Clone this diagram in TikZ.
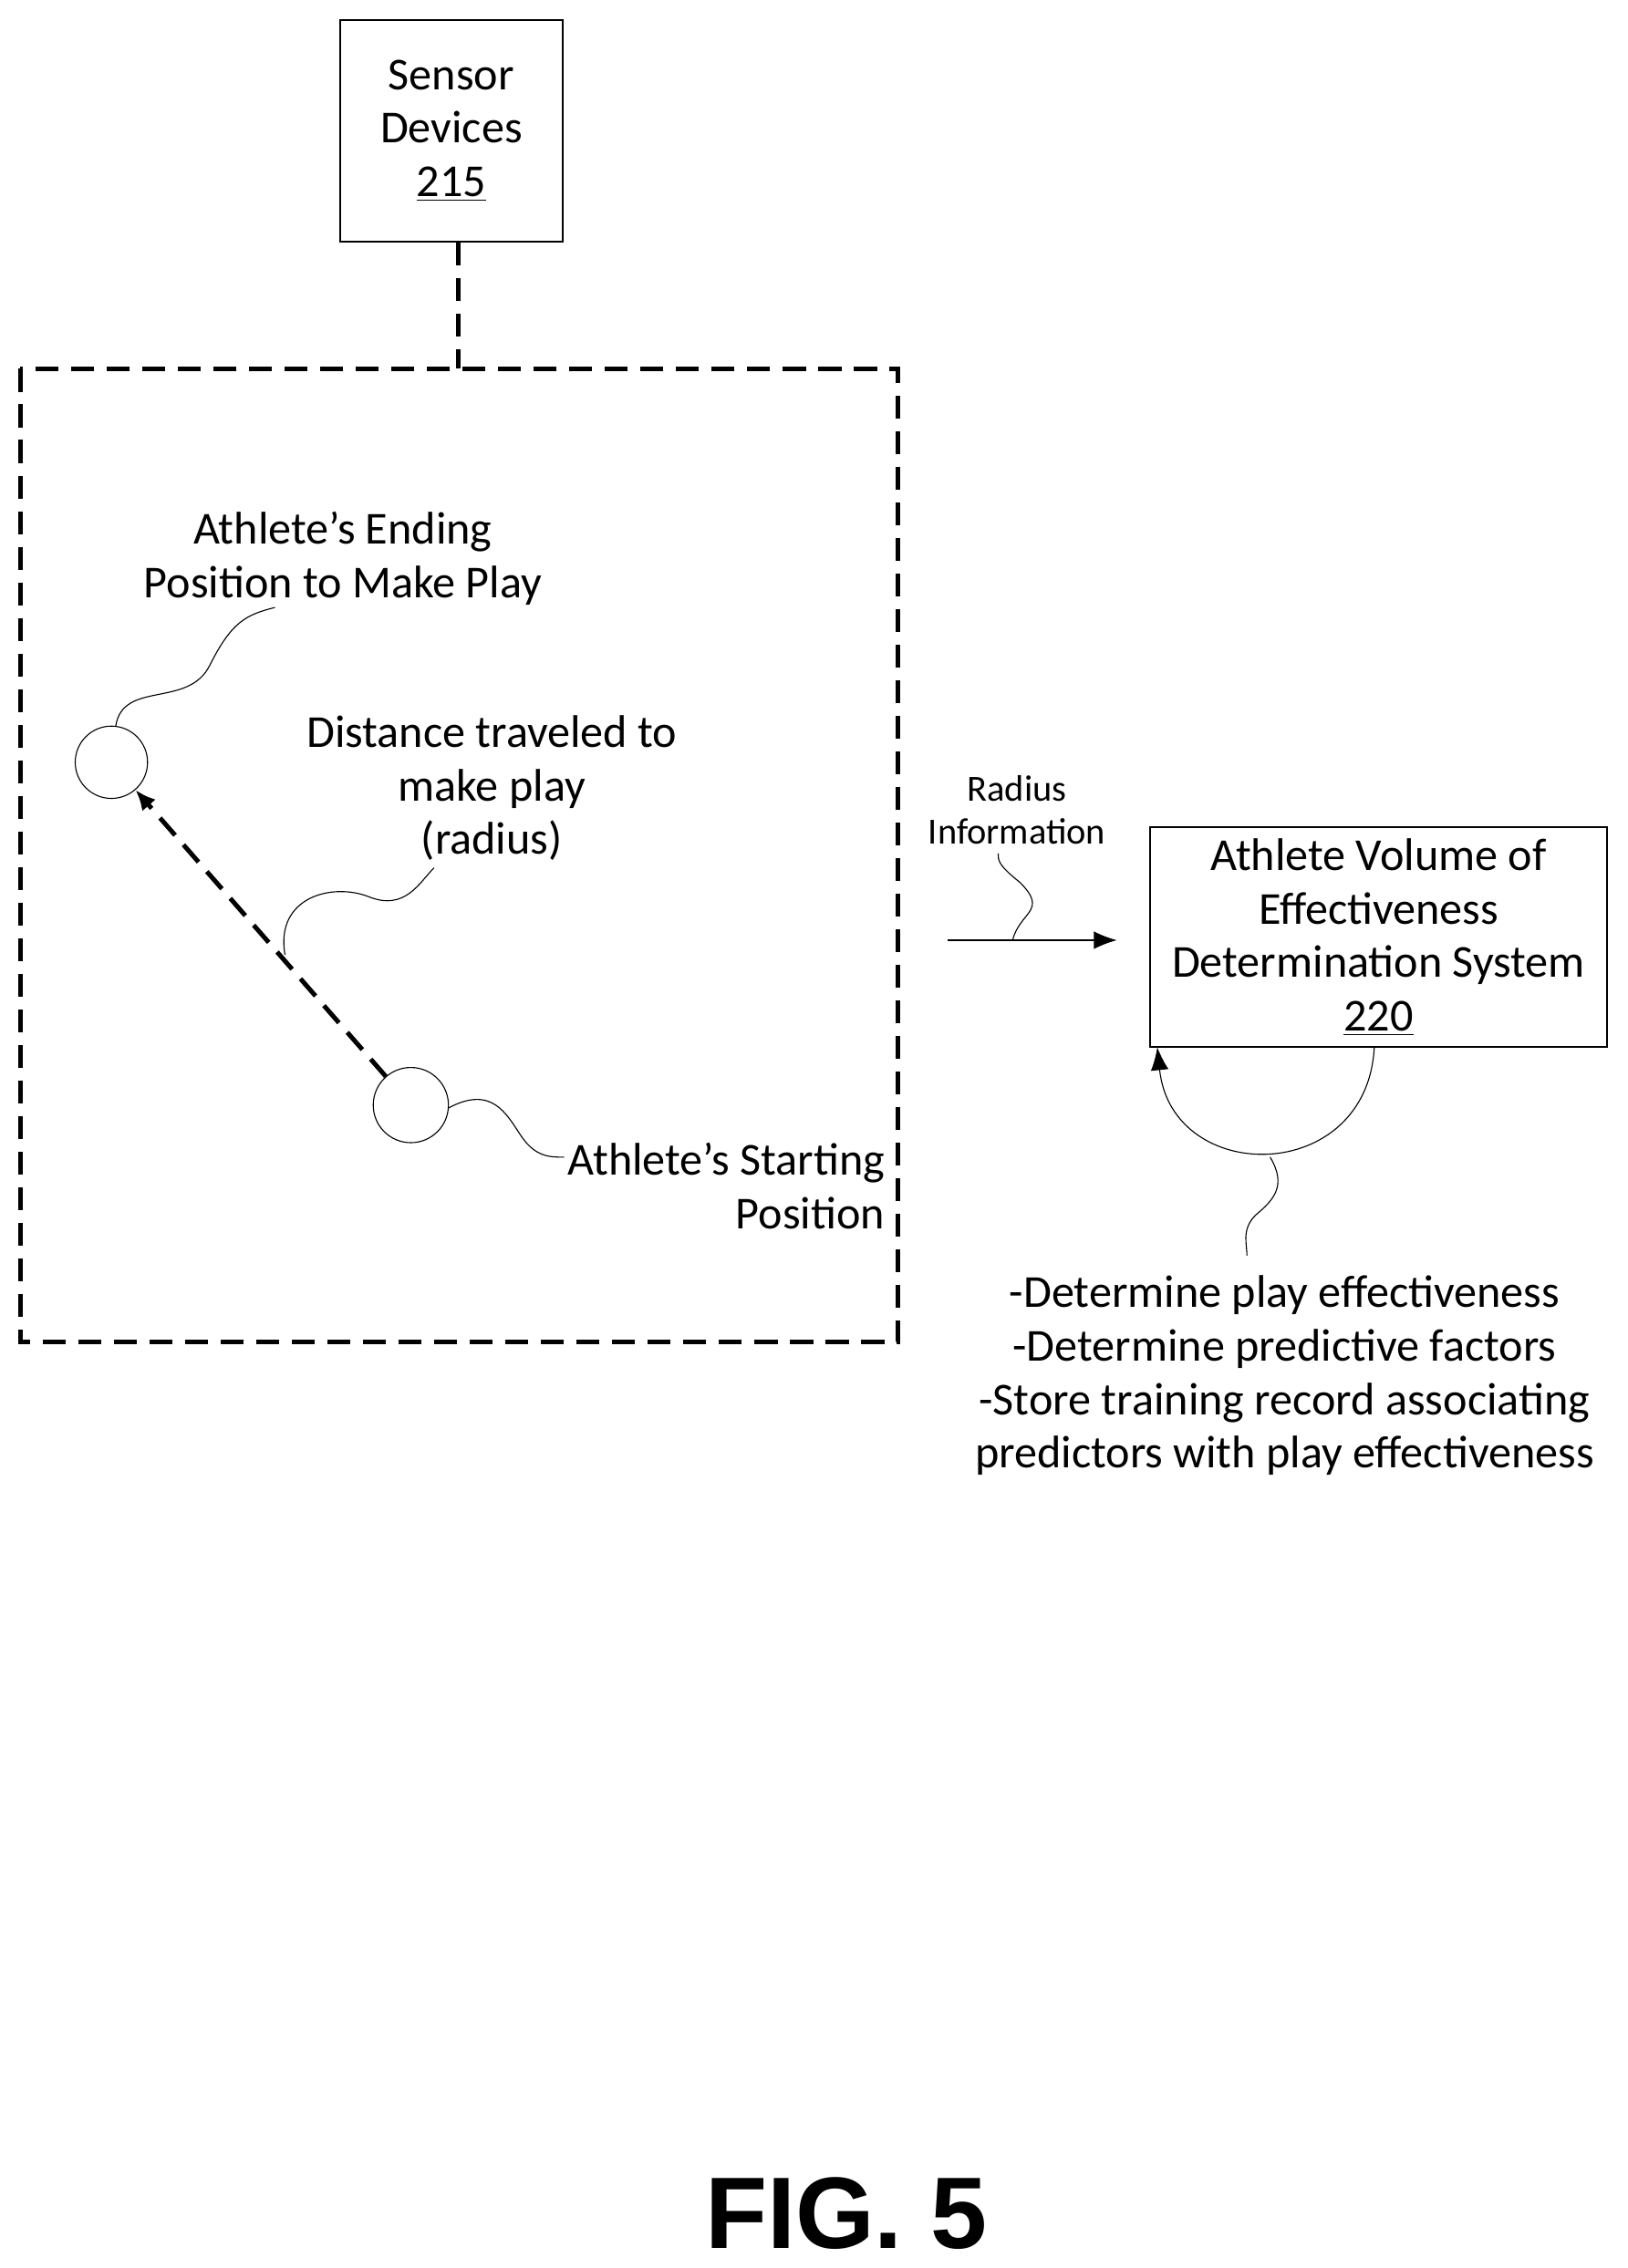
\documentclass[tikz,border=0pt]{standalone}
\usepackage{fontspec}
\setmainfont{Carlito}
\newfontfamily\figfont{Liberation Sans}
\usetikzlibrary{arrows.meta,positioning}
\tikzstyle{box}=[draw,thick,align=center,inner sep=0pt]
\tikzstyle{lbl}=[align=center,font=\fontsize{18}{21}\selectfont]
\tikzstyle{squig}=[thin]
\tikzstyle{dashline}=[line width=1.8pt,dash pattern=on 9pt off 5pt]
\begin{document}
\begin{tikzpicture}[x=0.02cm,y=-0.02cm]
\useasboundingbox (0,0) rectangle (1125,1568);
\node[box,minimum width=3.08cm,minimum height=3.06cm,font=\fontsize{18}{21}\selectfont] (sensor) at (312,90.5) {Sensor\\Devices\\\underline{215}};
\draw[dashline] (14,255) rectangle (621,928);
\coordinate (top) at (317,255);
\draw[dashline] (sensor.south -| top) -- (top);
\node[circle,draw,minimum size=1cm,inner sep=0pt] (ending) at (77,527) {};
\node[circle,draw,minimum size=1.04cm,inner sep=0pt] (starting) at (284,764) {};
\draw[dashline,-{Latex[length=8pt,width=7pt]}] (starting) -- (ending);
\node[lbl] (endlbl) at (237,386) {Athlete{\char"27}s Ending\\Position to Make Play};
\draw[squig] (80,502) .. controls (85,470) and (130,490) .. (145,460) .. controls (160,430) and (170,425) .. (190,420);
\node[lbl] (distlbl) at (340,545) {Distance traveled to\\make play\\(radius)};
\draw[squig] (197,660) .. controls (190,620) and (230,610) .. (255,620) .. controls (280,630) and (290,610) .. (300,600);
\node[lbl,align=right] (startlbl) at (502,820) {Athlete’s Starting\\Position};
\draw[squig] (310,766) .. controls (340,750) and (350,770) .. (360,785) .. controls (370,800) and (380,800) .. (390,800);
\node[box,minimum width=6.32cm,minimum height=3.04cm,font=\fontsize{18}{21}\selectfont] (system) at (953,648) {Athlete Volume of\\Effectiveness\\Determination System\\\underline{220}};
\coordinate (radfrom) at (655,650);
\coordinate (radto) at (772,650);
\draw[-{Latex[length=9pt,width=7pt]}] (radfrom) -- (radto);
\node[lbl,font=\fontsize{14.5}{17}\selectfont] (radlbl) at (703,560) {Radius\\Information};
\draw[squig] (700,650) .. controls (705,630) and (725,630) .. (705,610) .. controls (690,598) and (690,595) .. (690,590);
\coordinate (loopend) at (800,724);
\draw[thin,-{Latex[length=9pt,width=7pt]}] (950,724) .. controls (945,820) and (810,820) .. (loopend);
\draw[squig] (878,800) .. controls (890,820) and (880,830) .. (868,840) .. controls (858,850) and (862,860) .. (862,868);
\node[lbl] (tasks) at (888,951) {-Determine play effectiveness\\-Determine predictive factors\\-Store training record associating\\predictors with play effectiveness};
\node[font=\figfont\bfseries\fontsize{40}{48}\selectfont] (fig) at (585,1530) {FIG. 5};
\end{tikzpicture}
\end{document}
